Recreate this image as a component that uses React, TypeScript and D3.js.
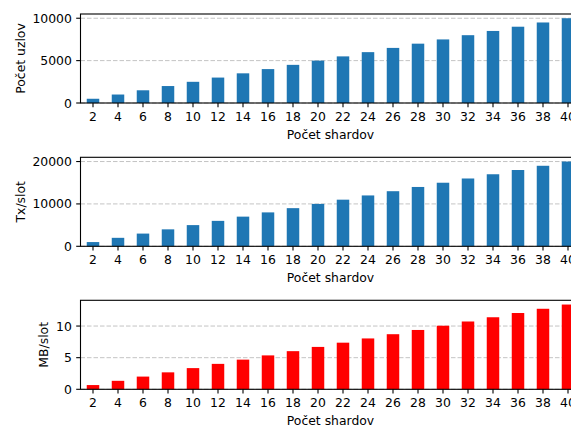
import React from "react";
import * as d3 from "d3";

// Number of shards on the x axis
const shards: number[] = [2, 4, 6, 8, 10, 12, 14, 16, 18, 20, 22, 24, 26, 28, 30, 32, 34, 36, 38, 40];

// Node count per configuration
const nodeCounts: number[] = [500, 1000, 1500, 2000, 2500, 3000, 3500, 4000, 4500, 5000, 5500, 6000, 6500, 7000, 7500, 8000, 8500, 9000, 9500, 10000];

// Transactions per slot
const txPerSlot: number[] = [1000, 2000, 3000, 4000, 5000, 6000, 7000, 8000, 9000, 10000, 11000, 12000, 13000, 14000, 15000, 16000, 17000, 18000, 19000, 20000];

// Megabytes per slot
const mbPerSlot: number[] = [0.67, 1.34, 2.01, 2.68, 3.35, 4.02, 4.69, 5.36, 6.03, 6.7, 7.37, 8.04, 8.71, 9.38, 10.05, 10.72, 11.39, 12.06, 12.73, 13.4];

const nodeTicks: number[] = [0, 5000, 10000];
const txTicks: number[] = [0, 10000, 20000];
const mbTicks: number[] = [0, 5, 10];

const W = 571;
const H = 428;
const LEFT = 80.5;
const RIGHT = 580.5;
const FONT = "'DejaVu Sans', sans-serif";
const FS = 12.4;

interface PanelProps {
  top: number;
  bottom: number;
  values: number[];
  ticks: number[];
  color: string;
  yLabel: string;
  yLabelX: number;
}

function Panel({ top, bottom, values, ticks, color, yLabel, yLabelX }: PanelProps) {
  const x = d3
    .scaleBand<string>()
    .domain(shards.map(String))
    .range([LEFT, RIGHT])
    .paddingInner(0.5)
    .paddingOuter(0.25);
  const yMax = (d3.max(values) ?? 0) * 1.05;
  const y = d3.scaleLinear().domain([0, yMax]).range([bottom, top]);
  const tickLen = 4.3;
  const pad = 4.3;

  return (
    <g>
      {/* grid */}
      {ticks.map((t) => (
        <line
          key={"g" + t}
          x1={LEFT}
          x2={RIGHT}
          y1={y(t)}
          y2={y(t)}
          stroke="#c4c4c4"
          strokeWidth={1}
          strokeDasharray="4.5,2"
        />
      ))}
      {/* bars */}
      {values.map((v, i) => (
        <rect
          key={"b" + i}
          x={x(String(shards[i]))}
          width={x.bandwidth()}
          y={y(v)}
          height={y(0) - y(v)}
          fill={color}
        />
      ))}
      {/* frame */}
      <rect
        x={LEFT}
        y={top}
        width={RIGHT - LEFT}
        height={bottom - top}
        fill="none"
        stroke="#000"
        strokeWidth={1.1}
      />
      {/* y ticks */}
      {ticks.map((t) => (
        <g key={"y" + t}>
          <line x1={LEFT - tickLen} x2={LEFT} y1={y(t)} y2={y(t)} stroke="#000" strokeWidth={1.1} />
          <text
            x={LEFT - tickLen - pad}
            y={y(t)}
            textAnchor="end"
            dominantBaseline="central"
            fontFamily={FONT}
            fontSize={FS}
            fill="#000"
          >
            {t}
          </text>
        </g>
      ))}
      {/* x ticks */}
      {shards.map((s) => {
        const cx = (x(String(s)) ?? 0) + x.bandwidth() / 2;
        return (
          <g key={"x" + s}>
            <line x1={cx} x2={cx} y1={bottom} y2={bottom + tickLen} stroke="#000" strokeWidth={1.1} />
            <text
              x={cx}
              y={bottom + tickLen + pad + 9.1}
              textAnchor="middle"
              fontFamily={FONT}
              fontSize={FS}
              fill="#000"
            >
              {s}
            </text>
          </g>
        );
      })}
      <text
        x={(LEFT + RIGHT) / 2}
        y={bottom + 36}
        textAnchor="middle"
        fontFamily={FONT}
        fontSize={FS}
        fill="#000"
      >
        Počet shardov
      </text>
      <text
        transform={`translate(${yLabelX},${(top + bottom) / 2}) rotate(-90)`}
        textAnchor="middle"
        fontFamily={FONT}
        fontSize={FS}
        fill="#000"
      >
        {yLabel}
      </text>
    </g>
  );
}

export default function App() {
  return (
    <svg
      width={W}
      height={H}
      viewBox={`0 0 ${W} ${H}`}
      style={{ position: "absolute", left: 0, top: 0, background: "#fff" }}
    >
      <rect width={W} height={H} fill="#fff" />
      <Panel top={14} bottom={103} values={nodeCounts} ticks={nodeTicks} color="#1f77b4" yLabel="Počet uzlov" yLabelX={24.5} />
      <Panel top={157.3} bottom={246.3} values={txPerSlot} ticks={txTicks} color="#1f77b4" yLabel="Tx/slot" yLabelX={24.5} />
      <Panel top={300.3} bottom={389.3} values={mbPerSlot} ticks={mbTicks} color="#ff0000" yLabel="MB/slot" yLabelX={48} />
    </svg>
  );
}
